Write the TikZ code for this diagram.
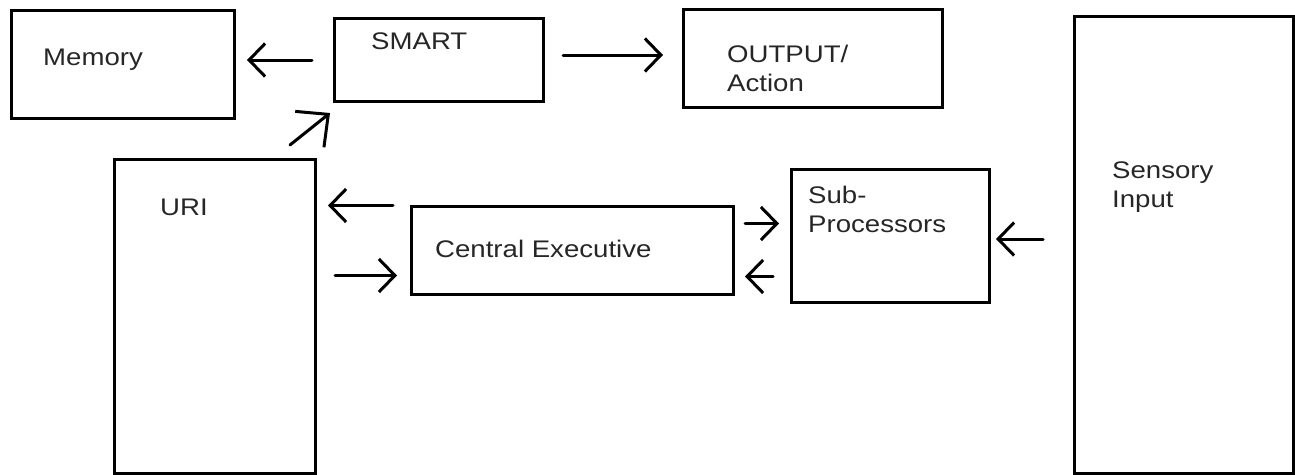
\documentclass[tikz,border=0pt]{standalone}
\usepackage{fontspec}
\setmainfont[FakeStretch=1.15]{Liberation Sans}
\usepackage{tikz}
\usetikzlibrary{arrows.meta, positioning}

\begin{document}
\begin{tikzpicture}[
  x=1pt, y=-1pt,
  box/.style={
    rectangle, draw=black, line width=3pt, anchor=north west,
    inner sep=0pt,
  },
  lbl/.style={anchor=north west, inner sep=0pt, align=left, text=black!85,
    font=\fontsize{24}{29}\selectfont},
  arrow/.style={-{Straight Barb[length=16pt, width=33pt]}, line width=3pt,
    line cap=round},
]
\useasboundingbox (0,0) rectangle (1295,474);
% boxes
\node[box, minimum width=223pt, minimum height=108pt] (memory) at (10,9) {};
\node[box, minimum width=209pt, minimum height=83pt] (smart) at (333,17) {};
\node[box, minimum width=259pt, minimum height=98pt] (output) at (682,8) {};
\node[box, minimum width=201pt, minimum height=314pt] (uri) at (113,158) {};
\node[box, minimum width=322pt, minimum height=88pt] (central) at (410,205) {};
\node[box, minimum width=198pt, minimum height=133pt] (sub) at (790,168) {};
\node[box, minimum width=219pt, minimum height=457pt] (sensory) at (1073,15) {};
% texts
\node[lbl] (memorytxt) at ([shift={(33,40)}]memory.north west) {Memory};
\node[lbl] (smarttxt) at ([shift={(38,16)}]smart.north west) {SMART};
\node[lbl] (outputtxt) at ([shift={(45,37)}]output.north west) {OUTPUT/\\Action};
\node[lbl] (uritxt) at ([shift={(47,41)}]uri.north west) {URI};
\node[lbl] (centraltxt) at ([shift={(25,35)}]central.north west) {Central Executive};
\node[lbl] (subtxt) at ([shift={(18,18)}]sub.north west) {Sub-\\Processors};
\node[lbl] (sensorytxt) at ([shift={(39,147)}]sensory.north west) {Sensory\\Input};
% arrows
\draw[arrow] ([xshift=-21pt]smart.west) -- ([xshift=11pt]smart.west -| memory.east);
\draw[arrow] ([xshift=18pt, yshift=5pt]smart.east) -- ([xshift=-19pt, yshift=5pt]smart.east -| output.west);
\draw[arrow, -{Straight Barb[length=24pt, width=46pt]}] ([shift={(-27,-13)}]uri.north east) -- ([shift={(-3,10)}]smart.south west);
\draw[arrow] ([xshift=-17pt, yshift=45pt]central.west) -- ([xshift=11pt, yshift=45pt]central.west -| uri.east);
\draw[arrow] ([xshift=18pt, yshift=-25pt]central.west -| uri.east) -- ([xshift=-13pt, yshift=-25pt]central.west);
\draw[arrow] ([xshift=10pt, yshift=27pt]central.east) -- ([xshift=-11pt, yshift=27pt]central.east -| sub.west);
\draw[arrow] ([xshift=-17pt, yshift=-26pt]central.east -| sub.west) -- ([xshift=10pt, yshift=-26pt]central.east);
\draw[arrow] ([xshift=-30pt, yshift=6pt]sensory.west) -- ([xshift=5pt, yshift=6pt]sensory.west -| sub.east);
\end{tikzpicture}
\end{document}
